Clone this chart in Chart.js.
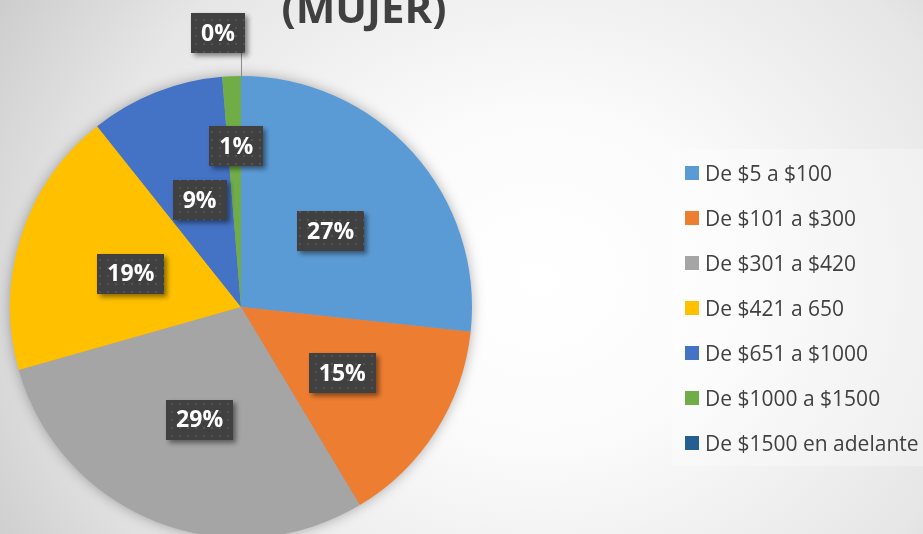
<!DOCTYPE html>
<html>
<head>
<meta charset="utf-8">
<script src="https://cdn.jsdelivr.net/npm/chart.js@4.4.1/dist/chart.umd.min.js"></script>
<style>
  html, body { margin: 0; padding: 0; }
  body {
    width: 923px; height: 534px; overflow: hidden; position: relative;
    background: radial-gradient(ellipse 640px 560px at 540px 280px, #ffffff 0%, #fbfbfb 30%, #e6e6e6 72%, #cbcbcb 100%);
    font-family: "Open Sans", sans-serif;
  }
  #c { position: absolute; left: 0; top: 0; }
  #legend {
    position: absolute; left: 672px; top: 149px; width: 251px; height: 317px;
    background: rgba(255,255,255,0.3);
  }
  .item { position: absolute; left: 13px; height: 30px; display: flex; align-items: center;
    font-size: 21px; color: #404040; white-space: nowrap; }
  .sw { width: 14px; height: 14px; margin-right: 6px; }
</style>
</head>
<body>
<canvas id="c" width="923" height="560"></canvas>
<div id="legend"></div>
<script>
const categories = ["De $5 a $100", "De $101 a $300", "De $301 a $420", "De $421 a 650",
  "De $651 a $1000", "De $1000 a $1500", "De $1500 en adelante"];
const shares = [26.7, 14.7, 29.2, 18.7, 9.4, 1.3, 0];
const colors = ["#5B9BD5", "#ED7D31", "#A5A5A5", "#FFC000", "#4472C4", "#70AD47", "#255E91"];
const titleText = "(MUJER)";

// legend
const legend = document.getElementById('legend');
categories.forEach((c, i) => {
  const d = document.createElement('div');
  d.className = 'item';
  d.style.top = (9 + i * 45) + 'px';
  d.innerHTML = '<span class="sw" style="background:' + colors[i] + '"></span><span></span>';
  d.lastChild.textContent = c;
  legend.appendChild(d);
});

// dotted fill for the label boxes
const pc = document.createElement('canvas');
pc.width = 8; pc.height = 8;
const pctx = pc.getContext('2d');
pctx.fillStyle = '#404040'; pctx.fillRect(0, 0, 8, 8);
pctx.fillStyle = '#545454'; pctx.fillRect(3, 3, 2, 2);

const total = shares.reduce((a, b) => a + b, 0);

const pieShadow = {
  id: 'pieShadow',
  beforeDatasetsDraw(chart) {
    const arc = chart.getDatasetMeta(0).data[0];
    const ctx = chart.ctx;
    ctx.save();
    ctx.shadowColor = 'rgba(0,0,0,0.35)';
    ctx.shadowBlur = 14;
    ctx.fillStyle = '#a0a0a0';
    ctx.beginPath();
    ctx.arc(arc.x, arc.y, arc.outerRadius - 1, 0, Math.PI * 2);
    ctx.fill();
    ctx.restore();
  }
};

const labelBoxes = {
  id: 'labelBoxes',
  afterDatasetsDraw(chart) {
    const ctx = chart.ctx;
    const meta = chart.getDatasetMeta(0);
    ctx.save();
    ctx.font = 'bold 23px "Open Sans"';
    ctx.textAlign = 'center';
    ctx.textBaseline = 'middle';
    meta.data.forEach((arc, i) => {
      const pct = Math.round(shares[i] / total * 100) + '%';
      const mid = (arc.startAngle + arc.endAngle) / 2;
      const R = arc.outerRadius;
      let cx, cy;
      if (shares[i] === 0) {
        const ex = arc.x + R * Math.cos(mid), ey = arc.y + R * Math.sin(mid);
        cx = ex - 23; cy = ey - 43;
        ctx.strokeStyle = '#8c8c8c';
        ctx.lineWidth = 1;
        ctx.beginPath();
        ctx.moveTo(ex + 0.5, ey);
        ctx.lineTo(ex + 0.5, cy + 20);
        ctx.stroke();
      } else {
        const f = i === 5 ? 0.71 : 0.51;
        cx = arc.x + R * f * Math.cos(mid) + 2;
        cy = arc.y + R * f * Math.sin(mid) + 3;
      }
      const w = ctx.measureText(pct).width + 20, h = 40;
      ctx.save();
      ctx.shadowColor = 'rgba(0,0,0,0.45)';
      ctx.shadowBlur = 5;
      ctx.shadowOffsetX = 3;
      ctx.shadowOffsetY = 3;
      ctx.fillStyle = ctx.createPattern(pc, 'repeat');
      ctx.fillRect(Math.round(cx - w / 2), Math.round(cy - h / 2), Math.round(w), h);
      ctx.restore();
      ctx.fillStyle = '#ffffff';
      ctx.fillText(pct, cx, cy + 1);
    });
    // title (top part falls outside the picture)
    ctx.font = 'bold 42px "Open Sans"';
    ctx.fillStyle = '#404040';
    ctx.textBaseline = 'alphabetic';
    ctx.fillText(titleText, 364, 23);
    ctx.restore();
  }
};

new Chart(document.getElementById('c').getContext('2d'), {
  type: 'pie',
  data: {
    labels: categories,
    datasets: [{
      data: shares,
      backgroundColor: colors,
      borderWidth: 0,
      hoverOffset: 0
    }]
  },
  options: {
    responsive: false,
    animation: false,
    events: [],
    layout: { padding: { left: 10, right: 451, top: 76, bottom: 22 } },
    plugins: {
      legend: { display: false },
      tooltip: { enabled: false }
    }
  },
  plugins: [pieShadow, labelBoxes]
});
</script>
</body>
</html>
